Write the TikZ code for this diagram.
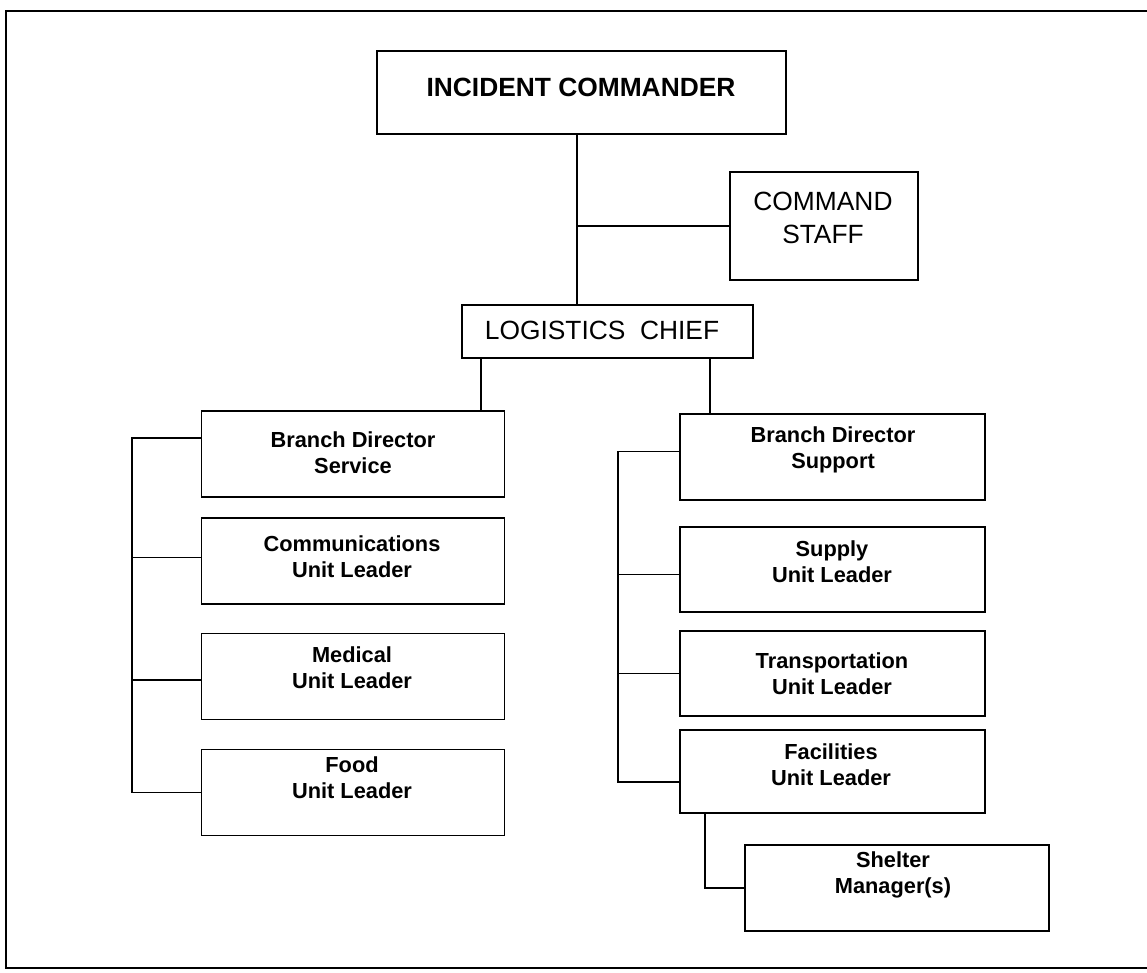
\documentclass[tikz,border=0pt]{standalone}
\usepackage{fontspec}
\setmainfont{Liberation Sans}
\usetikzlibrary{calc}

\tikzset{
    box/.style={draw, line width=0.8pt, inner sep=0pt},
    unitbox/.style={box, minimum width=6.05cm, minimum height=1.72cm},
    bigtxt/.style={font=\fontsize{15}{19}\selectfont, align=center, inner sep=0pt},
    smalltxt/.style={font=\bfseries\fontsize{12.4}{14.8}\selectfont, align=center, inner sep=0pt},
    link/.style={line width=0.8pt}
}

\begin{document}
\begin{tikzpicture}[x=0.02cm, y=-0.02cm]

\useasboundingbox (0,0) rectangle (1147,973);

    % Frame
\draw[line width=0.9pt] (1147,11) -- (6,11) -- (6,968) -- (1147,968);

% Top boxes
\node[box, minimum width=8.18cm, minimum height=1.66cm] (ic) at (581.5,92.5) {};
\node[bigtxt, font=\bfseries\fontsize{15}{19}\selectfont] (ic-t) at (581,87) {INCIDENT COMMANDER};
\node[box, minimum width=3.76cm, minimum height=2.16cm] (staff) at (824,226) {};
\node[bigtxt] (staff-t) at (823,218) {COMMAND\\STAFF};
\node[box, minimum width=5.82cm, minimum height=1.06cm] (lc) at (607.5,331.5) {};
\node[bigtxt] (lc-t) at (602,330) {LOGISTICS\ \ CHIEF};

% Service branch
\node[unitbox] (bds) at (353,454) {};
\node[smalltxt] (bds-t) at (353,453) {Branch Director\\Service};
\node[unitbox] (comms) at (353,561) {};
\node[smalltxt] (comms-t) at (352,557) {Communications\\Unit Leader};
\node[unitbox] (med) at (353,676.5) {};
\node[smalltxt] (med-t) at (352,668) {Medical\\Unit Leader};
\node[unitbox] (food) at (353,792.5) {};
\node[smalltxt] (food-t) at (352,778) {Food\\Unit Leader};

% Support branch
\node[unitbox, minimum width=6.1cm] (bdsup) at (832.5,457) {};
\node[smalltxt] (bdsup-t) at (833,450) {Branch Director\\Support};
\node[unitbox, minimum width=6.1cm, minimum height=1.7cm] (supply) at (832.5,569.5) {};
\node[smalltxt] (supply-t) at (832,562) {Supply\\Unit Leader};
\node[unitbox, minimum width=6.1cm, minimum height=1.7cm] (transp) at (832.5,673.5) {};
\node[smalltxt] (transp-t) at (832,674) {Transportation\\Unit Leader};
\node[unitbox, minimum width=6.1cm, minimum height=1.66cm] (fac) at (832.5,771.5) {};
\node[smalltxt] (fac-t) at (831,765) {Facilities\\Unit Leader};
\node[unitbox, minimum width=6.08cm] (shelter) at (897,888) {};
\node[smalltxt] (shelter-t) at (893,875) {Shelter\\Manager(s)};

% Split points
\coordinate (trunk) at (577,226);
\coordinate (lsplit) at (481,0);
\coordinate (rsplit) at (710,0);
\coordinate (lbus) at (132,0);
\coordinate (rbus) at (618,0);
\coordinate (fbus) at (705,0);

% Connectors
\draw[link] (trunk |- ic.south) -- (trunk |- lc.north);
\draw[link] (trunk) -- (staff.west);
\draw[link] (lc.south -| lsplit) -- (bds.north -| lsplit);
\draw[link] (lc.south -| rsplit) -- (bdsup.north -| rsplit);

\draw[link] ([yshift=9pt]bds.west) -| (lbus |- food.west) -- (food.west);
\draw[link] ([yshift=2pt]comms.west) -- ([yshift=2pt]comms.west -| lbus);
\draw[link] ([yshift=-2pt]med.west) -- ([yshift=-2pt]med.west -| lbus);

\draw[link] ([yshift=3pt]bdsup.west) -| ([yshift=-6pt]rbus |- fac.west) -- ([yshift=-6pt]fac.west);
\draw[link] ([yshift=-3pt]supply.west) -- ([yshift=-3pt]supply.west -| rbus);
\draw[link] (transp.west) -- (transp.west -| rbus);

\draw[link] (fac.south -| fbus) |- (shelter.west);

\end{tikzpicture}
\end{document}
